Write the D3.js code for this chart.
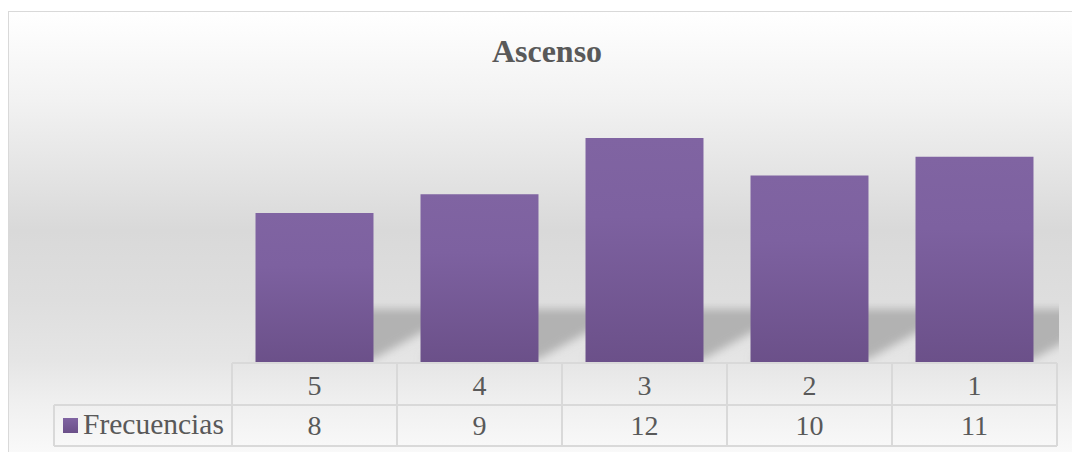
<!DOCTYPE html>
<html>
<head>
<meta charset="utf-8">
<script src="https://cdn.jsdelivr.net/npm/d3@7"></script>
<style>
html,body{margin:0;padding:0;background:#fff;}
svg{display:block;}
</style>
</head>
<body>
<div id="chart"></div>
<script>
const title = "Ascenso";
const categories = ["5", "4", "3", "2", "1"];
const seriesName = "Frecuencias";
const frecuencias = [8, 9, 12, 10, 11];

const W = 1072, H = 452;
const svg = d3.select("#chart").append("svg").attr("width", W).attr("height", H);
const defs = svg.append("defs");

const bg = defs.append("linearGradient").attr("id", "bg")
  .attr("gradientUnits", "userSpaceOnUse").attr("x1", 0).attr("y1", 11).attr("x2", 0).attr("y2", 452);
[[11, "#ffffff"], [100, "#f2f2f2"], [230, "#d9d9d9"], [300, "#dedede"], [360, "#e5e5e5"], [400, "#efefef"], [452, "#f9f9f9"]]
  .forEach(([y, c]) => bg.append("stop").attr("offset", (y - 11) / (452 - 11)).attr("stop-color", c));

const barG = defs.append("linearGradient").attr("id", "barG").attr("x1", 0).attr("y1", 0).attr("x2", 0).attr("y2", 1);
barG.append("stop").attr("offset", 0).attr("stop-color", "#8064a2");
barG.append("stop").attr("offset", 0.35).attr("stop-color", "#7d61a0");
barG.append("stop").attr("offset", 1).attr("stop-color", "#6b5089");

const legG = defs.append("linearGradient").attr("id", "legG").attr("x1", 0).attr("y1", 0).attr("x2", 0).attr("y2", 1);
legG.append("stop").attr("offset", 0).attr("stop-color", "#8064a2");
legG.append("stop").attr("offset", 1).attr("stop-color", "#6b5089");

defs.append("filter").attr("id", "blur").attr("x", "-50%").attr("y", "-50%").attr("width", "200%").attr("height", "200%")
  .append("feGaussianBlur").attr("stdDeviation", 4);

defs.append("clipPath").attr("id", "plotClip").append("rect")
  .attr("x", 220).attr("y", 90).attr("width", 1059 - 220).attr("height", 363 - 90);

// chart area
svg.append("rect").attr("x", 8.5).attr("y", 11.5).attr("width", 1100).attr("height", 500)
  .attr("fill", "url(#bg)").attr("stroke", "#d9d9d9").attr("stroke-width", 1);

// title
svg.append("text").attr("x", 547).attr("y", 62).attr("text-anchor", "middle")
  .attr("font-family", "'Liberation Serif', 'Times New Roman', serif").attr("font-weight", "bold")
  .attr("font-size", 32).attr("fill", "#595959").text(title);

const x = d3.scaleBand().domain(categories).range([232, 1057]).paddingInner(0.285).paddingOuter(0.1425);
const y = d3.scaleLinear().domain([0, 14]).range([363, 100.5]);

const data = categories.map((c, i) => ({ c, v: frecuencias[i] }));

// shadows (perspective, clipped to plot area)
svg.append("g").attr("clip-path", "url(#plotClip)")
  .append("g").attr("filter", "url(#blur)").selectAll("path").data(data).join("path")
  .attr("d", d => {
    const x0 = x(d.c), x1 = x(d.c) + x.bandwidth();
    const yb = y(0) - 4, yt = y(0) - 54;
    return `M${x0},${yb} L${x1},${yb} L${x1 + 90},${yt} L${x0 + 90},${yt} Z`;
  })
  .attr("fill", "#a6a6a6").attr("opacity", 0.8);

// bars
svg.append("g").selectAll("rect").data(data).join("rect")
  .attr("x", d => x(d.c)).attr("width", x.bandwidth())
  .attr("y", d => y(d.v)).attr("height", d => y(0) - y(d.v))
  .attr("fill", "url(#barG)");

// data table
const font = "'Liberation Serif', 'Times New Roman', serif";
const tg = svg.append("g");
const rowTop = 363, rowMid = 405, rowBot = 446;
const gridColor = "#d9d9d9";
const step = x.step();
const edges = categories.map(c => x(c) + x.bandwidth() / 2 - step / 2)
  .concat([x(categories[categories.length - 1]) + x.bandwidth() / 2 + step / 2]);

tg.append("line").attr("x1", edges[0]).attr("x2", edges[edges.length - 1]).attr("y1", rowTop).attr("y2", rowTop)
  .attr("stroke", gridColor).attr("stroke-width", 2);
tg.append("line").attr("x1", 54).attr("x2", edges[edges.length - 1]).attr("y1", rowMid).attr("y2", rowMid)
  .attr("stroke", gridColor).attr("stroke-width", 2);
tg.append("line").attr("x1", 54).attr("x2", edges[edges.length - 1]).attr("y1", rowBot).attr("y2", rowBot)
  .attr("stroke", gridColor).attr("stroke-width", 2);
edges.forEach(e => tg.append("line").attr("x1", e).attr("x2", e).attr("y1", rowTop).attr("y2", rowBot)
  .attr("stroke", gridColor).attr("stroke-width", 2));
tg.append("line").attr("x1", 54).attr("x2", 54).attr("y1", rowMid).attr("y2", rowBot)
  .attr("stroke", gridColor).attr("stroke-width", 2);

tg.selectAll("text.cat").data(data).join("text").attr("class", "cat")
  .attr("x", d => x(d.c) + x.bandwidth() / 2).attr("y", 395)
  .attr("text-anchor", "middle").attr("font-family", font).attr("font-size", 28).attr("fill", "#595959")
  .text(d => d.c);
tg.selectAll("text.val").data(data).join("text").attr("class", "val")
  .attr("x", d => x(d.c) + x.bandwidth() / 2).attr("y", 435)
  .attr("text-anchor", "middle").attr("font-family", font).attr("font-size", 28).attr("fill", "#595959")
  .text(d => d.v);

// legend
tg.append("rect").attr("x", 63).attr("y", 418).attr("width", 15).attr("height", 15).attr("fill", "url(#legG)");
tg.append("text").attr("x", 83).attr("y", 434).attr("font-family", font).attr("font-size", 29.5)
  .attr("fill", "#595959").text(seriesName);
</script>
</body>
</html>
